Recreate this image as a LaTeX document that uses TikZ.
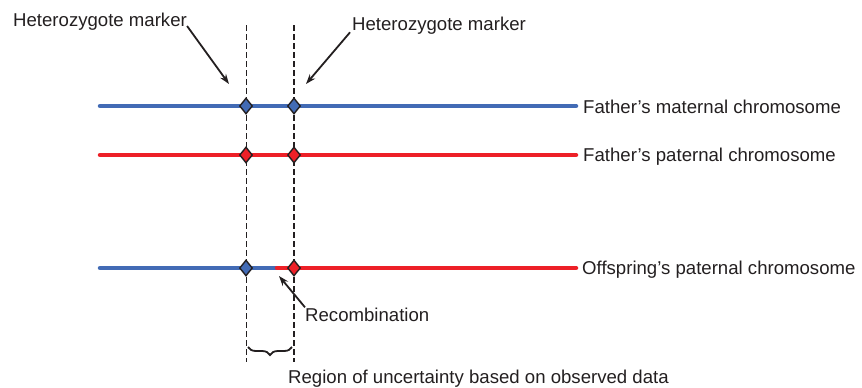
\documentclass[tikz,border=0pt]{standalone}
\usepackage{fontspec}
\setmainfont{Liberation Sans}
\usepackage{xcolor}
\usepackage{tikz}
\usetikzlibrary{arrows.meta,shapes.geometric,decorations.pathreplacing}

\definecolor{chromblue}{RGB}{66,107,181}
\definecolor{chromred}{RGB}{237,32,39}
\definecolor{inkgray}{RGB}{35,31,32}

\begin{document}
\begin{tikzpicture}[
    x=1pt, y=-1pt,
    label/.style={anchor=base west, inner sep=0pt, text=inkgray, font=\fontsize{18.6}{22}\selectfont},
    chrom/.style={line width=4.5pt, line cap=round},
    marker/.style={diamond, draw=inkgray, line width=1.4pt, minimum width=13pt, minimum height=16pt, inner sep=0pt},
    arrow/.style={-{Stealth[length=10pt,width=7pt]}, line width=1.8pt, inkgray},
    guide/.style={inkgray, dash pattern=on 6pt off 3pt}
]
    \useasboundingbox (0,0) rectangle (862,388);

    % Guide lines through the markers
    \coordinate (guideAtop) at (246,25);
    \coordinate (guideAbot) at (246,362);
    \coordinate (guideBtop) at (294,25);
    \coordinate (guideBbot) at (294,362);
    \draw[guide, line width=0.9pt] (guideAtop) -- (guideAbot);
    \draw[guide, line width=1.7pt] (guideBtop) -- (guideBbot);

    % Father's maternal chromosome
    \coordinate (matstart) at (100,106);
    \coordinate (matend) at (576,106);
    \draw[chrom, chromblue] (matstart) -- (matend);
    \node[label] (mat) at (583,113) {Father’s maternal chromosome};

    % Father's paternal chromosome
    \coordinate (patstart) at (100,155);
    \coordinate (patend) at (576,155);
    \draw[chrom, chromred] (patstart) -- (patend);
    \node[label] (pat) at (583,161) {Father’s paternal chromosome};

    % Offspring's paternal chromosome
    \coordinate (offstart) at (100,268);
    \coordinate (offswitch) at (277,268);
    \coordinate (offend) at (576,268);
    \draw[chrom, chromblue] (offstart) -- (offswitch);
    \draw[chrom, chromred] (offswitch) -- (offend);
    \node[label] (off) at (582,274) {Offspring’s paternal chromosome};

    % Markers
    \node[marker, fill=chromblue] (matA) at (246,106) {};
    \node[marker, fill=chromblue] (matB) at (294,106) {};
    \node[marker, fill=chromred] (patA) at (246,155) {};
    \node[marker, fill=chromred] (patB) at (294,155) {};
    \node[marker, fill=chromblue] (offA) at (246,268) {};
    \node[marker, fill=chromred] (offB) at (294,268) {};

    % Heterozygote labels
    \node[label] (hetA) at (13,26) {Heterozygote marker};
    \node[label] (hetB) at (352,30) {Heterozygote marker};
    \coordinate (hetAtip) at (229,84);
    \coordinate (hetBtip) at (306,84);
    \draw[arrow] (hetA.base east) -- (hetAtip);
    \draw[arrow, shorten <=3pt] (hetB.base west) -- (hetBtip);

    % Recombination
    \node[label] (recomb) at (305,321) {Recombination};
    \coordinate (recombtip) at (279,276);
    \draw[arrow] (recomb.north west) -- (recombtip);

    % Region of uncertainty
    \coordinate (braceA) at (248,347);
    \coordinate (braceB) at (292,347);
    \draw[decorate, decoration={brace, mirror, amplitude=8pt}, line width=1.8pt, inkgray] (braceA) -- (braceB);
    \node[label] (region) at (288,383.5) {Region of uncertainty based on observed data};

\end{tikzpicture}
\end{document}
